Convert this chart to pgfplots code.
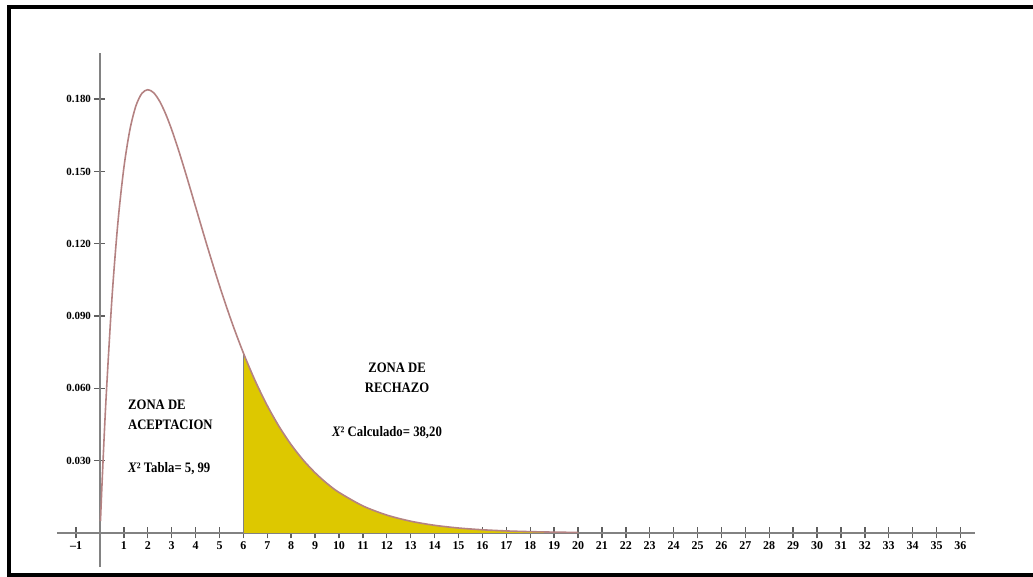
\documentclass[border=0pt]{standalone}
\usepackage{fontspec}
\setmainfont{Liberation Serif}
\usepackage{pgfplots}
\pgfplotsset{compat=1.18}
\usepackage{pgfplotstable}

\definecolor{curva}{RGB}{180,130,130}
\definecolor{rechazo}{RGB}{221,200,0}
\definecolor{eje}{RGB}{130,130,130}
\definecolor{marca}{RGB}{95,95,95}

% chi-cuadrado, 4 grados de libertad
\pgfplotstableread{
x y
0.02 0.00495
0.1 0.02378
0.25 0.05516
0.5 0.09735
0.75 0.12887
1 0.15163
1.25 0.16727
1.5 0.17714
1.75 0.18238
2 0.18394
2.25 0.18262
2.5 0.17906
2.75 0.17383
3 0.16735
3.25 0.15999
3.5 0.15205
3.75 0.14377
4 0.13534
4.5 0.11858
5 0.10261
5.5 0.08790
6 0.07468
6.5 0.06301
7 0.05285
7.5 0.04410
8 0.03663
8.5 0.03031
9 0.02500
9.5 0.02055
10 0.01685
11 0.01124
12 0.00744
13 0.00489
14 0.00319
15 0.00207
16 0.00134
17 0.00086
18 0.00056
19 0.00036
20 0.00023
}\chicuad

\begin{document}
\begin{tikzpicture}[
    rotulo/.style={font=\bfseries\fontsize{14.5}{20}\selectfont,
        inner sep=0pt, xscale=0.88, transform shape},
]
\begin{axis}[
    x=23.9bp, y=2410bp,
    xmin=-1.8, xmax=36.6,
    ymin=-0.0142, ymax=0.199,
    axis lines=middle,
    axis line style={eje, line width=2bp, -},
    every inner x axis line/.append style={-},
    every inner y axis line/.append style={-},
    tick align=center,
    major tick length=11bp,
    tick style={marca, line width=1.4bp},
    xtick={-1,1,2,3,...,36},
    xticklabels={--1,1,2,3,4,5,6,7,8,9,10,11,12,13,14,15,16,17,18,19,20,21,22,23,24,25,26,27,28,29,30,31,32,33,34,35,36},
    ytick={0.03,0.06,0.09,0.12,0.15,0.18},
    yticklabels={0.030,0.060,0.090,0.120,0.150,0.180},
    xticklabel style={font=\bfseries\fontsize{12}{12}\selectfont},
    yticklabel style={font=\bfseries\fontsize{11}{11}\selectfont},
    clip=false,
]
\addplot[draw=none, fill=rechazo, restrict x to domain=6:20] table {\chicuad} \closedcycle;
\addplot[eje, line width=1bp] coordinates {(6,0) (6,0.07468)};
\addplot[curva, line width=1.6bp, smooth] table {\chicuad};

\node[rotulo, anchor=west, align=left] at (axis cs:1.17,0.0492) {ZONA DE\\ACEPTACION};
\node[rotulo, anchor=west] at (axis cs:1.17,0.0266) {\textit{X}² Tabla= 5, 99};
\node[rotulo, align=center] at (axis cs:12.43,0.0643) {ZONA DE\\RECHAZO};
\node[rotulo, anchor=west] at (axis cs:9.7,0.0415) {\textit{X}² Calculado= 38,20};

% marco
\draw[black, line width=4bp] (axis cs:39.3,0.21826) -- (axis cs:-3.808,0.21826)
    -- (axis cs:-3.808,-0.017427) -- (axis cs:39.3,-0.017427);
\coordinate (bbll) at (axis cs:-4.184,-0.018257);
\coordinate (bbur) at (axis cs:39.038,0.221162);
\end{axis}
\pgfresetboundingbox
\useasboundingbox (bbll) rectangle (bbur);
\end{tikzpicture}
\end{document}
